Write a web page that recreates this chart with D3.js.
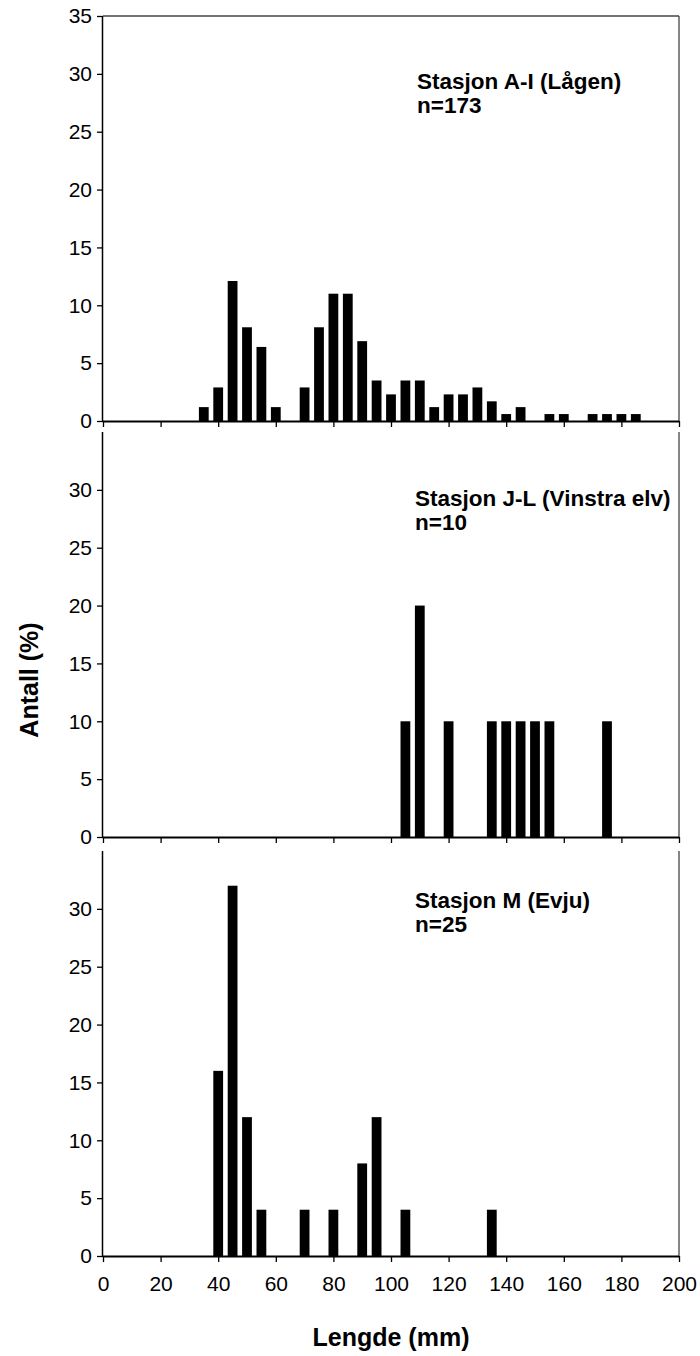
<!DOCTYPE html>
<html>
<head>
<meta charset="utf-8">
<script src="https://cdn.jsdelivr.net/npm/d3@7"></script>
<style>
  html, body { margin: 0; padding: 0; background: #fff; }
  svg { display: block; }
  text { font-family: "Liberation Sans", Arial, sans-serif; fill: #000; }
</style>
</head>
<body>
<svg id="chart" width="700" height="1356"></svg>
<script>
// Length classes (mm) and share of fish (%) per station
const lagenLengths  = [35, 40, 45, 50, 55, 60, 70, 75, 80, 85, 90, 95, 100, 105, 110, 115, 120, 125, 130, 135, 140, 145, 155, 160, 170, 175, 180, 185];
const lagenPct      = [1.2, 2.9, 12.1, 8.1, 6.4, 1.2, 2.9, 8.1, 11.0, 11.0, 6.9, 3.5, 2.3, 3.5, 3.5, 1.2, 2.3, 2.3, 2.9, 1.7, 0.6, 1.2, 0.6, 0.6, 0.6, 0.6, 0.6, 0.6];
const vinstraLengths = [105, 110, 120, 135, 140, 145, 150, 155, 175];
const vinstraPct     = [10, 20, 10, 10, 10, 10, 10, 10, 10];
const evjuLengths   = [40, 45, 50, 55, 70, 80, 90, 95, 105, 135];
const evjuPct       = [16, 32, 12, 4, 4, 4, 8, 12, 4, 4];

const stationNames = ["Stasjon A-I (Lågen)", "Stasjon J-L (Vinstra elv)", "Stasjon M (Evju)"];
const stationN     = ["n=173", "n=10", "n=25"];

const xTicks = [0, 20, 40, 60, 80, 100, 120, 140, 160, 180, 200];
const yTicksTop = [0, 5, 10, 15, 20, 25, 30, 35];
const yTicksLower = [0, 5, 10, 15, 20, 25, 30];

const xTitle = "Lengde (mm)";
const yTitle = "Antall (%)";

const svg = d3.select("#chart");
const left = 103, right = 679;
const panelH = 405;
const tickFont = "21px";
const labelFont = "22.5px";
const titleFont = "25px";
const panels = [
  { top: 16,  lengths: lagenLengths,   pct: lagenPct,   yTicks: yTicksTop,   frameTop: true,  label: [417, 89] },
  { top: 432, lengths: vinstraLengths, pct: vinstraPct, yTicks: yTicksLower, frameTop: false, label: [415, 506] },
  { top: 851, lengths: evjuLengths,    pct: evjuPct,    yTicks: yTicksLower, frameTop: false, label: [415, 908] }
];

const x = d3.scaleLinear().domain([0, 200]).range([left, right]);
const barW = x(3.4) - x(0);

panels.forEach((p, i) => {
  const y = d3.scaleLinear().domain([0, 35]).range([p.top + panelH, p.top]);
  const g = svg.append("g");

  // frame: top border only on the first panel, right border on all
  if (p.frameTop) {
    g.append("line").attr("x1", left).attr("x2", right).attr("y1", y(35)).attr("y2", y(35))
      .attr("stroke", "#444").attr("stroke-width", 1.3);
  }
  g.append("line").attr("x1", right).attr("x2", right).attr("y1", y(35)).attr("y2", y(0))
    .attr("stroke", "#444").attr("stroke-width", 1.3);

  // bars
  g.selectAll("rect.bar").data(p.lengths.map((l, k) => ({ l, v: p.pct[k] })))
    .enter().append("rect")
    .attr("class", "bar")
    .attr("x", d => x(d.l) - barW / 2)
    .attr("width", barW)
    .attr("y", d => y(d.v))
    .attr("height", d => y(0) - y(d.v))
    .attr("fill", "#000");

  // y axis
  const yAxis = d3.axisLeft(y).tickValues(p.yTicks).tickSize(6).tickPadding(5).tickFormat(d3.format("d"));
  const ya = g.append("g").attr("transform", `translate(${left},0)`).call(yAxis);
  ya.select(".domain").attr("d", `M-0.5,${y(35)}V${y(0)}`).attr("stroke", "#000").attr("stroke-width", 1.5);
  ya.selectAll(".tick line").attr("stroke", "#000").attr("stroke-width", 1.3);
  ya.selectAll(".tick text").style("font-size", tickFont).style("font-family", "Liberation Sans, Arial, sans-serif");

  // x axis
  const xAxis = d3.axisBottom(x).tickValues(xTicks).tickSize(6).tickPadding(14)
    .tickFormat(i === 2 ? d3.format("d") : () => "");
  const xa = g.append("g").attr("transform", `translate(0,${y(0)})`).call(xAxis);
  xa.select(".domain").attr("d", `M${left},0.5H${right}`).attr("stroke", "#000").attr("stroke-width", 2);
  xa.selectAll(".tick line").attr("stroke", "#000").attr("stroke-width", 1.3);
  xa.selectAll(".tick text").style("font-size", tickFont).style("font-family", "Liberation Sans, Arial, sans-serif");

  // station label
  g.append("text").attr("x", p.label[0]).attr("y", p.label[1])
    .style("font-size", labelFont).style("font-weight", "bold").text(stationNames[i]);
  g.append("text").attr("x", p.label[0]).attr("y", p.label[1] + 24)
    .style("font-size", labelFont).style("font-weight", "bold").text(stationN[i]);
});

// axis titles
svg.append("text").attr("x", (left + right) / 2).attr("y", 1346)
  .attr("text-anchor", "middle").style("font-size", titleFont).style("font-weight", "bold").text(xTitle);
svg.append("text").attr("transform", "translate(38,680) rotate(-90)")
  .attr("text-anchor", "middle").style("font-size", titleFont).style("font-weight", "bold").text(yTitle);
</script>
</body>
</html>
